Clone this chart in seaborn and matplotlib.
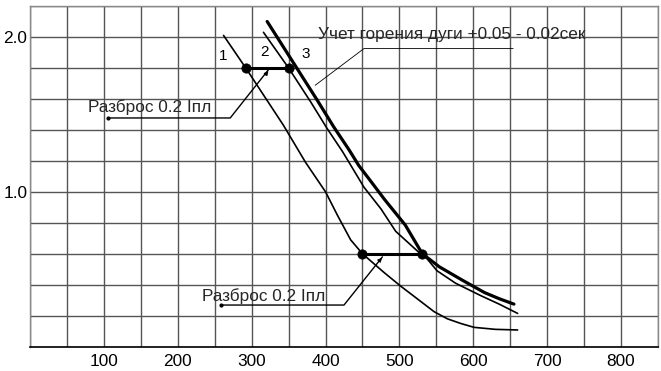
import matplotlib
matplotlib.use("Agg")
import matplotlib.pyplot as plt
import seaborn as sns
import numpy as np
import pandas as pd

# ---- data ----
c1_x = [262, 292, 343, 373, 400, 416, 434, 450, 479, 502, 524, 547, 565, 583, 601, 630, 660]
c1_y = [2.01, 1.80, 1.43, 1.19, 1.00, 0.85, 0.69, 0.60, 0.48, 0.39, 0.31, 0.226, 0.18, 0.15, 0.125, 0.112, 0.108]
c2_x = [316, 350, 380, 402, 423, 452, 475, 495, 510, 525, 537, 551, 576, 610, 635, 660]
c2_y = [2.03, 1.80, 1.58, 1.41, 1.26, 1.03, 0.89, 0.745, 0.68, 0.615, 0.57, 0.49, 0.41, 0.33, 0.275, 0.215]
c3_x = [321, 361, 389, 411, 432, 445, 461, 480, 508, 531, 554, 585, 615, 635, 655]
c3_y = [2.10, 1.80, 1.59, 1.42, 1.27, 1.17, 1.07, 0.95, 0.785, 0.60, 0.516, 0.43, 0.35, 0.31, 0.275]

dots_top_x = [292, 350]
dots_top_y = [1.80, 1.80]
dots_bot_x = [450, 531]
dots_bot_y = [0.60, 0.60]

curve_labels = ["1", "2", "3"]
curve_label_x = [262, 318, 373]
curve_label_y = [1.88, 1.90, 1.89]

xtick_vals = [100, 200, 300, 400, 500, 600, 700, 800]
ytick_vals = [1.0, 2.0]

spread_text = "Разброс 0.2 Iпл"
arc_text = "Учет горения дуги +0.05 - 0.02сек"

sns.set_theme(style="white")
plt.rcParams['font.family'] = ['Liberation Sans', 'DejaVu Sans']

FS = 12.4

fig = plt.figure(figsize=(6.61, 3.71), dpi=100)
ax = fig.add_axes([30/661, 1-346.7/371, 628/661, (346.7-6)/371])

df = pd.concat([
    pd.DataFrame({"x": c1_x, "y": c1_y, "curve": "1"}),
    pd.DataFrame({"x": c2_x, "y": c2_y, "curve": "2"}),
    pd.DataFrame({"x": c3_x, "y": c3_y, "curve": "3"}),
])
sns.lineplot(data=df, x="x", y="y", hue="curve", size="curve",
             sizes={"1": 1.2, "2": 1.2, "3": 2.3},
             palette={"1": "black", "2": "black", "3": "black"},
             sort=False, estimator=None, legend=False, ax=ax, zorder=3)
for ln in ax.get_lines():
    ln.set_solid_joinstyle("round")

# bars between dots
ax.plot(dots_top_x, dots_top_y, color="black", lw=2.2, zorder=4)
ax.plot(dots_bot_x, dots_bot_y, color="black", lw=2.2, zorder=4)
sns.scatterplot(x=dots_top_x + dots_bot_x, y=dots_top_y + dots_bot_y,
                color="black", s=45, edgecolor="black", ax=ax, zorder=5)

for t, x, y in zip(curve_labels, curve_label_x, curve_label_y):
    ax.text(x, y, t, fontsize=11, ha="center", va="center", color="black")

# leaders
ax.plot([106, 271, 323], [1.477, 1.477, 1.79], color="black", lw=1.0, zorder=3)
ax.annotate("", xy=(325, 1.795), xytext=(316, 1.74),
            arrowprops=dict(arrowstyle="-|>", color="black", lw=0.8, mutation_scale=6))
ax.plot([106], [1.477], marker="o", ms=2, color="black")
ax.text(79, 1.545, spread_text, fontsize=FS, ha="left", va="center")

ax.plot([259, 425, 477], [0.269, 0.269, 0.58], color="black", lw=1.0, zorder=3)
ax.annotate("", xy=(479, 0.588), xytext=(470, 0.54),
            arrowprops=dict(arrowstyle="-|>", color="black", lw=0.8, mutation_scale=6))
ax.plot([259], [0.269], marker="o", ms=2, color="black")
ax.text(233, 0.33, spread_text, fontsize=FS, ha="left", va="center")

ax.plot([386, 452, 654], [1.688, 1.925, 1.925], color="black", lw=0.6, zorder=3)
ax.text(390, 2.015, arc_text, fontsize=FS, ha="left", va="center")

ax.set_xlim(0, 850)
ax.set_ylim(0, 2.2)
ax.set_xticks(np.arange(0, 851, 50), minor=False)
ax.set_xticklabels(["" if v not in xtick_vals else str(int(v)) for v in np.arange(0, 851, 50)])
ax.set_yticks(np.round(np.arange(0, 2.21, 0.2), 2))
ax.set_yticklabels([f"{v:.1f}" if round(v, 2) in ytick_vals else "" for v in np.arange(0, 2.21, 0.2)])
ax.grid(True, color="#555555", lw=1.0)
ax.tick_params(axis="both", length=0, labelsize=FS, colors="black", pad=2)
ax.tick_params(axis="x", pad=5)
ax.set_xlabel("")
ax.set_ylabel("")
for s in ["left", "top", "right"]:
    ax.spines[s].set_color("#888888")
    ax.spines[s].set_linewidth(1.0)
ax.spines["bottom"].set_color("black")
ax.spines["bottom"].set_linewidth(1.2)

fig.savefig("out.png", dpi=100)
